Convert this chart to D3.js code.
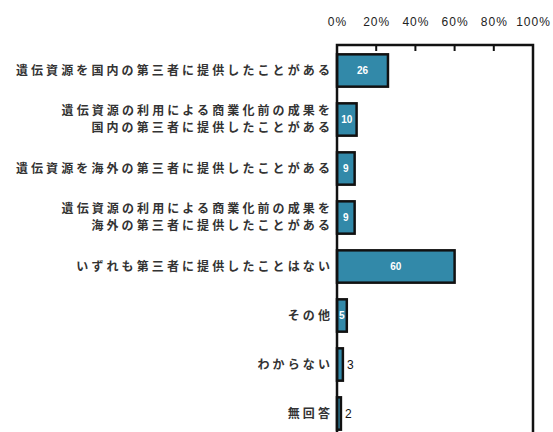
<!DOCTYPE html>
<html>
<head>
<meta charset="utf-8">
<script src="https://cdn.jsdelivr.net/npm/d3@7"></script>
<style>
  body { margin: 0; background: #fff; }
  svg { display: block; }
</style>
</head>
<body>
<svg id="chart" width="553" height="432"></svg>
<script>
// Response categories (multi-line labels split with "\n")
const categories = [
  "遺伝資源を国内の第三者に提供したことがある",
  "遺伝資源の利用による商業化前の成果を\n国内の第三者に提供したことがある",
  "遺伝資源を海外の第三者に提供したことがある",
  "遺伝資源の利用による商業化前の成果を\n海外の第三者に提供したことがある",
  "いずれも第三者に提供したことはない",
  "その他",
  "わからない",
  "無回答"
];
// Share of respondents (%)
const values = [26, 10, 9, 9, 60, 5, 3, 2];
// Axis tick values (%)
const tickValues = [0, 20, 40, 60, 80, 100];

const svg = d3.select("#chart");
const plotLeft = 337, plotRight = 533, plotTop = 45, plotBottom = 432;

const x = d3.scaleLinear().domain([0, 100]).range([plotLeft, plotRight]);
const y = d3.scaleBand().domain(categories).range([46, 438])
  .paddingInner(0.34).paddingOuter(0.17);

const jp = "'Noto Sans CJK JP', 'Noto Sans', sans-serif";

// Top axis with percent labels
const axis = d3.axisTop(x).tickValues(tickValues)
  .tickFormat(d => d + "%").tickSize(0).tickPadding(19);
const gAxis = svg.append("g").attr("transform", `translate(0,${plotTop})`).call(axis);
gAxis.select(".domain").remove();
gAxis.selectAll("text")
  .attr("font-family", "Arial, 'Liberation Sans', sans-serif")
  .attr("font-size", 12).attr("letter-spacing", 1).attr("fill", "#222");

// Inward tick marks at interior gridline positions
svg.append("g").selectAll("line")
  .data(tickValues.slice(1, -1))
  .join("line")
  .attr("x1", d => x(d)).attr("x2", d => x(d))
  .attr("y1", plotTop).attr("y2", plotTop + 6)
  .attr("stroke", "#111").attr("stroke-width", 2);

// Bars
svg.append("g").selectAll("rect")
  .data(values)
  .join("rect")
  .attr("x", x(0))
  .attr("y", (d, i) => y(categories[i]))
  .attr("width", d => x(d) - x(0))
  .attr("height", y.bandwidth())
  .attr("fill", "#3289a9")
  .attr("stroke", "#111")
  .attr("stroke-width", 2.5);

// Plot frame: top, left and right edges
svg.append("path")
  .attr("d", `M${plotLeft},${plotBottom}V${plotTop}H${plotRight}V${plotBottom}`)
  .attr("fill", "none").attr("stroke", "#111").attr("stroke-width", 2.5);

// Value labels: inside for wide bars, outside for narrow ones
svg.append("g").selectAll("text")
  .data(values)
  .join("text")
  .attr("x", d => d >= 5 ? (x(0) + x(d)) / 2 : x(d) + 4)
  .attr("y", (d, i) => y(categories[i]) + y.bandwidth() / 2)
  .attr("dy", "0.35em")
  .attr("text-anchor", d => d >= 5 ? "middle" : "start")
  .attr("font-family", "Arial, 'Liberation Sans', sans-serif")
  .attr("font-weight", d => d >= 5 ? "bold" : "normal")
  .attr("font-size", d => d >= 5 ? 10 : 12)
  .attr("fill", d => d >= 5 ? "#fff" : "#111")
  .text(d => d);

// Category labels, right-aligned against the axis
const labels = svg.append("g").selectAll("text")
  .data(categories)
  .join("text")
  .attr("x", 333)
  .attr("y", d => y(d) + y.bandwidth() / 2)
  .attr("text-anchor", "end")
  .attr("font-family", jp)
  .attr("font-weight", "bold")
  .attr("font-size", 12)
  .attr("letter-spacing", 3.1)
  .attr("fill", "#333");

labels.each(function(d) {
  const lines = d.split("\n");
  const t = d3.select(this);
  lines.forEach((ln, k) => {
    t.append("tspan")
      .attr("x", 333)
      .attr("dy", k === 0 ? `${0.35 - (lines.length - 1) * 0.7}em` : "1.4em")
      .text(ln);
  });
});
</script>
</body>
</html>
